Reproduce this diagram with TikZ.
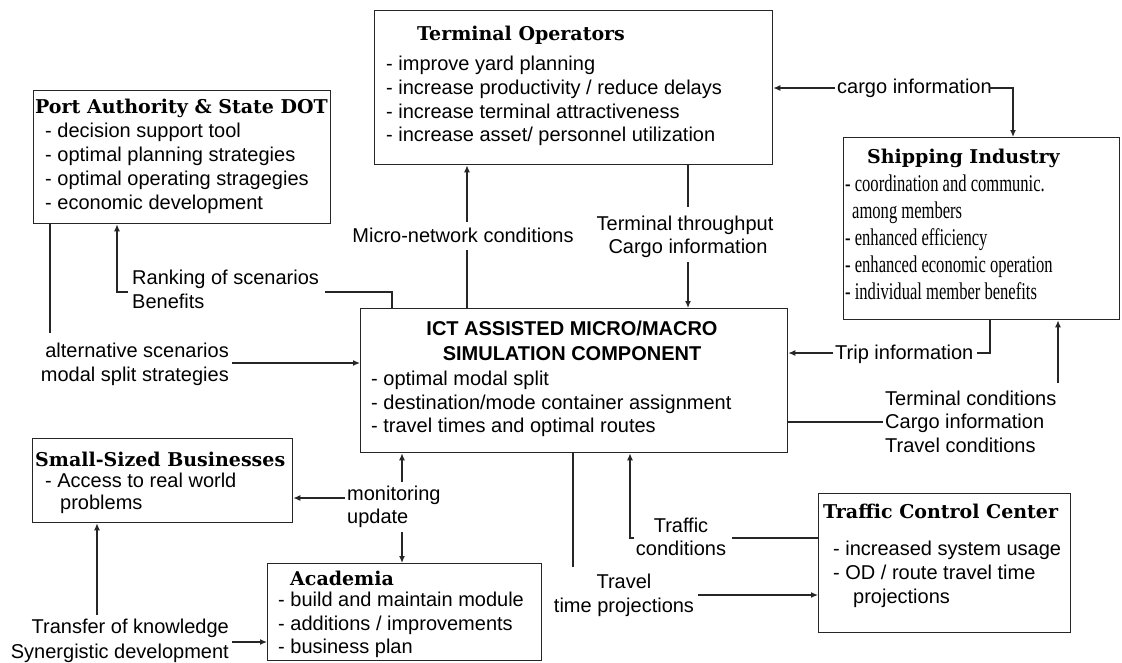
\documentclass[tikz,border=0pt]{standalone}
\usepackage{fontspec}
\setmainfont{Liberation Sans}
\newfontfamily\ttlfont{DejaVu Serif}
\newfontfamily\serfont{Liberation Serif}[FakeStretch=0.69]
\usetikzlibrary{arrows.meta}
\begin{document}
\begin{tikzpicture}[x=1pt,y=-1pt,
  box/.style={draw=black!85, line width=1.3pt, inner sep=0pt, anchor=north west},
  ttl/.style={font=\ttlfont\bfseries\fontsize{19}{22}\selectfont, inner sep=0pt, anchor=base west},
  body/.style={font=\fontsize{20}{23.7}\selectfont, inner sep=0pt, align=left, anchor=north west},
  lbl/.style={font=\fontsize{20}{24}\selectfont, inner sep=0pt},
  conn/.style={line width=1.3pt, draw=black!85},
  arr/.style={conn, -{Latex[length=7pt,width=6pt]}}]
\fill[white] (0,0) rectangle (1122,662);
\useasboundingbox (0,0) rectangle (1122,662);

% boxes
\node[box, minimum width=297pt, minimum height=133pt] (PA) at (33,90) {};
\node[box, minimum width=398pt, minimum height=154pt] (TO) at (374,10) {};
\node[box, minimum width=276pt, minimum height=182pt] (SI) at (843,137) {};
\node[box, minimum width=427pt, minimum height=144pt] (ICT) at (360,308) {};
\node[box, minimum width=260pt, minimum height=84pt] (SB) at (32,438) {};
\node[box, minimum width=274pt, minimum height=97pt] (AC) at (267,563) {};
\node[box, minimum width=252pt, minimum height=139pt] (TCC) at (818,493) {};

% titles
\node[ttl] (PAt) at (35,113) {Port Authority \& State DOT};
\node[ttl] (TOt) at (417,40) {Terminal Operators};
\node[ttl] (SIt) at (867,163) {Shipping Industry};
\node[ttl] (SBt) at (35,466) {Small-Sized Businesses};
\node[ttl] (ACt) at (290,585) {Academia};
\node[ttl] (TCCt) at (823,518) {Traffic Control Center};
\node[font=\bfseries\fontsize{20}{25}\selectfont, align=center, anchor=north, inner sep=0pt] (ICTt) at (572,321) {ICT ASSISTED MICRO/MACRO\\SIMULATION COMPONENT};

% box contents
\node[body, font=\fontsize{20}{24}\selectfont] (PAb) at (45,123) {- decision support tool\\- optimal planning strategies\\- optimal operating stragegies\\- economic development};
\node[body] (TOb) at (386,56) {- improve yard planning\\- increase productivity / reduce delays\\- increase terminal attractiveness\\- increase asset/ personnel utilization};
\node[body, font=\serfont\fontsize{24}{27}\selectfont] (SIb) at (845,175) {- coordination and communic.\\\hspace*{7pt}among members\\- enhanced efficiency\\- enhanced economic operation\\- individual member benefits};
\node[body, font=\fontsize{20}{23.5}\selectfont] (ICTb) at (371,371) {- optimal modal split\\- destination/mode container assignment\\- travel times and optimal routes};
\node[body, font=\fontsize{20}{22}\selectfont] (SBb) at (45,473) {- Access to real world\\\hspace*{15pt}problems};
\node[body, font=\fontsize{20}{23.5}\selectfont] (ACb) at (278,592) {- build and maintain module\\- additions / improvements\\- business plan};
\node[body, font=\fontsize{20}{24}\selectfont] (TCCb) at (833,541) {- increased system usage\\- OD / route travel time\\\hspace*{20pt}projections};

% labels
\node[lbl, anchor=base] (micro) at (463,242) {Micro-network conditions};
\node[lbl, anchor=base] (thr1) at (685,230) {Terminal throughput};
\node[lbl, anchor=base] (thr2) at (688,253) {Cargo information};
\node[lbl, anchor=base west] (rk1) at (132,284) {Ranking of scenarios};
\node[lbl, anchor=base west] (rk2) at (132,308) {Benefits};
\node[lbl, anchor=base east] (alt1) at (229,357) {alternative scenarios};
\node[lbl, anchor=base east] (alt2) at (229,381) {modal split strategies};
\node[lbl, anchor=base west] (cargo) at (837,93) {cargo information};
\node[lbl, anchor=base west] (trip) at (835,359) {Trip information};
\node[lbl, anchor=base west] (tc1) at (885,405) {Terminal conditions};
\node[lbl, anchor=base west] (tc2) at (885,428) {Cargo information};
\node[lbl, anchor=base west] (tc3) at (885,452) {Travel conditions};
\node[lbl, anchor=base west] (mon1) at (347,500) {monitoring};
\node[lbl, anchor=base west] (mon2) at (347,523) {update};
\node[lbl, anchor=base] (trf1) at (681,532) {Traffic};
\node[lbl, anchor=base] (trf2) at (681,555) {conditions};
\node[lbl, anchor=base] (tv1) at (624,588) {Travel};
\node[lbl, anchor=base] (tv2) at (624,612) {time projections};
\node[lbl, anchor=base east] (tf1) at (229,633) {Transfer of knowledge};
\node[lbl, anchor=base east] (tf2) at (229,658) {Synergistic development};

% connector points
\coordinate (aTop) at (50,333);
\coordinate (aR) at (232,363);
\coordinate (rkC) at (392,292);
\coordinate (rkR) at (325,292);
\coordinate (rkL) at (128,292);
\coordinate (rkPA) at (117,292);
\coordinate (mB) at (467,250);
\coordinate (mT) at (467,222);
\coordinate (tT) at (688,207);
\coordinate (tB) at (688,262);
\coordinate (cL) at (835,88);
\coordinate (cR) at (989,88);
\coordinate (cC) at (1013,88);
\coordinate (tr1) at (990,353);
\coordinate (trR) at (977,353);
\coordinate (trL) at (833,353);
\coordinate (tcL) at (883,422);
\coordinate (tcU) at (1058,383);
\coordinate (trfR) at (732,538);
\coordinate (trfL) at (634,538);
\coordinate (trfC) at (630,538);
\coordinate (tvT) at (573,567);
\coordinate (tvR) at (698,595);
\coordinate (mo1) at (402,482);
\coordinate (mo2) at (402,532);
\coordinate (moL) at (345,498);
\coordinate (tfU) at (97,615);
\coordinate (tfR) at (232,642);

% connectors
\draw[conn] (PA.south -| aTop) -- (aTop);
\draw[arr] (aR) -- (aR -| ICT.west);
\draw[conn] (ICT.north -| rkC) -- (rkC) -- (rkR);
\draw[arr] (rkL) -- (rkPA) -- (PA.south -| rkPA);
\draw[conn] (ICT.north -| mB) -- (mB);
\draw[arr] (mT) -- (TO.south -| mT);
\draw[conn] (TO.south -| tT) -- (tT);
\draw[arr] (tB) -- (ICT.north -| tB);
\draw[arr] (cL) -- (cL -| TO.east);
\draw[arr] (cR) -- (cC) -- (SI.north -| cC);
\draw[conn] (SI.south -| tr1) -- (tr1) -- (trR);
\draw[arr] (trL) -- (trL -| ICT.east);
\draw[conn] (ICT.east |- tcL) -- (tcL);
\draw[arr] (tcU) -- (SI.south -| tcU);
\draw[conn] (TCC.west |- trfR) -- (trfR);
\draw[arr] (trfL) -- (trfC) -- (ICT.south -| trfC);
\draw[conn] (ICT.south -| tvT) -- (tvT);
\draw[arr] (tvR) -- (tvR -| TCC.west);
\draw[arr] (mo1) -- (ICT.south -| mo1);
\draw[arr] (mo2) -- (AC.north -| mo2);
\draw[arr] (moL) -- (moL -| SB.east);
\draw[arr] (tfU) -- (SB.south -| tfU);
\draw[arr] (tfR) -- (tfR -| AC.west);
\end{tikzpicture}
\end{document}
